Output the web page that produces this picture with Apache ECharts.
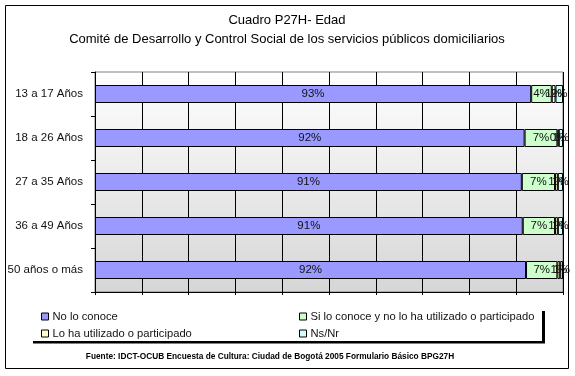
<!DOCTYPE html>
<html>
<head>
<meta charset="utf-8">
<script src="https://cdn.jsdelivr.net/npm/echarts@6/dist/echarts.min.js"></script>
<style>
html,body{margin:0;padding:0;background:#fff;}
#c{width:575px;height:376px;}
</style>
</head>
<body>
<div id="c"></div>
<script>
var categories = ['13 a 17 Años', '18 a 26 Años', '27 a 35 Años', '36 a 49 Años', '50 años o más'];
var seriesNames = ['No lo conoce', 'Si lo conoce y no lo ha utilizado o participado', 'Lo ha utilizado o participado', 'Ns/Nr'];
var noConoce = [93.2, 91.8, 91.2, 91.4, 92.1];
var siConoce = [4.4, 7.0, 7.1, 6.9, 6.7];
var utilizado = [0.8, 0.3, 0.6, 0.6, 0.6];
var nsNr = [1.6, 0.9, 1.1, 1.1, 0.6];
var xTicks = [0, 10, 20, 30, 40, 50, 60, 70, 80, 90, 100];

var colors = ['#9999ff', '#ccffcc', '#ffffcc', '#ccffff'];
var values = [noConoce, siConoce, utilizado, nsNr];
var font = 'Arial, "Liberation Sans", sans-serif';

var chart = echarts.init(document.getElementById('c'), null, {renderer: 'canvas'});

var series = seriesNames.map(function (n, i) {
  return {
    name: n,
    type: 'bar',
    stack: 'total',
    barWidth: 18,
    data: values[i],
    itemStyle: {color: colors[i], borderColor: '#000', borderWidth: 1},
    label: {
      show: true,
      position: 'inside',
      color: '#111',
      fontFamily: font,
      fontSize: 11.5,
      formatter: function (p) { return Math.round(p.value) + '%'; }
    },
    emphasis: {disabled: true}
  };
});

chart.setOption({
  animation: false,
  backgroundColor: '#fff',
  title: [
    {text: 'Cuadro P27H- Edad', left: 287, textAlign: 'center', top: 14, padding: 0,
     textStyle: {fontFamily: font, fontSize: 13, fontWeight: 'normal', color: '#000'}},
    {text: 'Comité de Desarrollo y Control Social de los servicios públicos domiciliarios', left: 287, textAlign: 'center', top: 33, padding: 0,
     textStyle: {fontFamily: font, fontSize: 13, fontWeight: 'normal', color: '#000'}},
    {text: 'Fuente: IDCT-OCUB Encuesta de Cultura: Ciudad de Bogotá 2005 Formulario Básico BPG27H', left: 270, textAlign: 'center', top: 353, padding: 0,
     textStyle: {fontFamily: font, fontSize: 8.3, fontWeight: 'bold', color: '#000'}}
  ],
  legend: [
    {orient: 'vertical', left: 41, top: 311, padding: 0, itemGap: 6, itemWidth: 7, itemHeight: 7,
     data: [seriesNames[0], seriesNames[2]], icon: 'rect',
     textStyle: {fontFamily: font, fontSize: 11.2, color: '#111', padding: [0, 0, 0, -1]},
     itemStyle: {borderColor: '#000', borderWidth: 1}},
    {orient: 'vertical', left: 299, top: 311, padding: 0, itemGap: 6, itemWidth: 7, itemHeight: 7,
     data: [seriesNames[1], seriesNames[3]], icon: 'rect',
     textStyle: {fontFamily: font, fontSize: 11.2, color: '#111', padding: [0, 0, 0, -1]},
     itemStyle: {borderColor: '#000', borderWidth: 1}}
  ],
  grid: {
    left: 95, right: 12, top: 72, bottom: 84,
    show: true, borderColor: '#808080', borderWidth: 1,
    backgroundColor: new echarts.graphic.LinearGradient(0, 0, 0, 1, [
      {offset: 0, color: '#ffffff'}, {offset: 1, color: '#d6d6d6'}
    ])
  },
  xAxis: {
    type: 'value', min: xTicks[0], max: xTicks[xTicks.length - 1], interval: xTicks[1] - xTicks[0],
    axisLabel: {show: false},
    axisLine: {show: true, lineStyle: {color: '#000', width: 1}},
    axisTick: {show: true, length: 3, lineStyle: {color: '#000'}},
    splitLine: {show: true, lineStyle: {color: '#000', width: 1}}
  },
  yAxis: {
    type: 'category', data: categories, inverse: true,
    axisLine: {show: true, lineStyle: {color: '#000', width: 1}},
    axisTick: {show: true, length: 4, lineStyle: {color: '#000'}},
    axisLabel: {fontFamily: font, fontSize: 11.5, color: '#111', margin: 12}
  },
  series: series,
  graphic: [
    {type: 'rect', shape: {x: 5.5, y: 5.5, width: 563, height: 363}, style: {fill: null, stroke: '#000', lineWidth: 1}, silent: true, z: 100},
    {type: 'rect', shape: {x: 33, y: 341, width: 512, height: 2.5}, style: {fill: '#000'}, silent: true},
    {type: 'rect', shape: {x: 542, y: 311, width: 3, height: 32}, style: {fill: '#000'}, silent: true}
  ]
});
</script>
</body>
</html>
